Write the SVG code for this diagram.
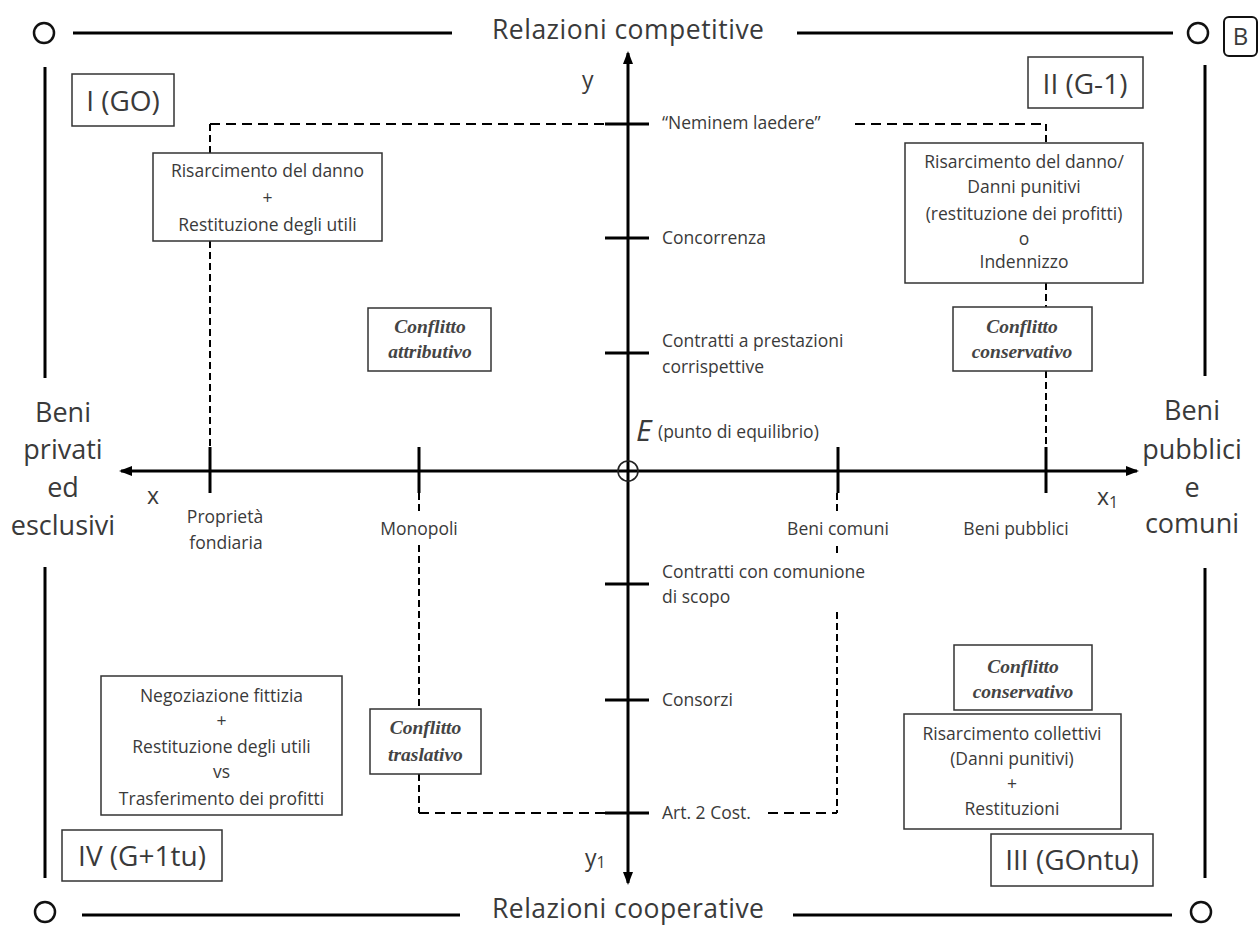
<svg xmlns="http://www.w3.org/2000/svg" width="1260" height="925" viewBox="0 0 1260 925">
<style>
.bg{fill:#fff}
.frame{stroke:#000;stroke-width:3;fill:none}
.ring{stroke:#111;stroke-width:2.5;fill:#fff}
.axis{stroke:#000;stroke-width:3;fill:none}
.tick{stroke:#000;stroke-width:3}
.hd{stroke:#000;stroke-width:2;stroke-dasharray:10 6;fill:none}
.vd{stroke:#000;stroke-width:2;stroke-dasharray:7 4;fill:none}
.box{fill:#fff;stroke:#333;stroke-width:1.5}
text{font-family:"Open Sans","Liberation Sans",sans-serif;fill:#3a3a3a}
.t{font-size:17.5px}
.c{text-anchor:middle}
.big{font-size:27px}
.q{font-size:28px;text-anchor:middle}
.cf{font-family:"Liberation Serif",serif;font-style:italic;font-weight:bold;font-size:19.5px;text-anchor:middle;fill:#444}
.ax{font-size:23px}
</style>
<defs>
<marker id="arr" viewBox="0 0 13 10" refX="11" refY="5" markerWidth="13" markerHeight="10" markerUnits="userSpaceOnUse" orient="auto-start-reverse">
<path d="M0,0 L13,5 L0,10 z" fill="#000"/>
</marker>
</defs>
<rect class="bg" x="0" y="0" width="1260" height="925"/>

<g id="frame">
<circle class="ring" cx="44" cy="33" r="10"/>
<line class="frame" x1="73" y1="33" x2="452" y2="33"/>
<line class="frame" x1="797" y1="33" x2="1173" y2="33"/>
<circle class="ring" cx="1198" cy="33" r="10"/>
<line class="frame" x1="45" y1="67" x2="45" y2="378"/>
<line class="frame" x1="45" y1="567" x2="45" y2="878"/>
<line class="frame" x1="1205" y1="65" x2="1205" y2="376"/>
<line class="frame" x1="1205" y1="568" x2="1205" y2="878"/>
<circle class="ring" cx="45" cy="912" r="10"/>
<line class="frame" x1="82" y1="915" x2="460" y2="915"/>
<line class="frame" x1="793" y1="915" x2="1172" y2="915"/>
<circle class="ring" cx="1201" cy="912" r="10"/>
<text x="628" y="39" font-size="26.5" class="c" textLength="272" lengthAdjust="spacing">Relazioni competitive</text>
<text x="628" y="918" font-size="26.5" class="c" textLength="272" lengthAdjust="spacing">Relazioni cooperative</text>
</g>

<g id="badge-B">
<rect x="1224" y="17" width="33" height="39" rx="5" fill="#fff" stroke="#111" stroke-width="2"/>
<text x="1240.5" y="45" font-size="24" class="c" fill="#222">B</text>
</g>

<g id="connectors">
<line class="axis" x1="121" y1="471" x2="1137" y2="471" marker-start="url(#arr)" marker-end="url(#arr)"/>
<line class="axis" x1="628" y1="53" x2="628" y2="883" marker-start="url(#arr)" marker-end="url(#arr)"/>
<g class="ticks">
<line class="tick" x1="605" y1="124" x2="649" y2="124"/>
<line class="tick" x1="605" y1="238" x2="649" y2="238"/>
<line class="tick" x1="605" y1="353" x2="649" y2="353"/>
<line class="tick" x1="605" y1="584" x2="649" y2="584"/>
<line class="tick" x1="605" y1="700" x2="649" y2="700"/>
<line class="tick" x1="605" y1="813" x2="649" y2="813"/>
<line class="tick" x1="210" y1="447" x2="210" y2="493"/>
<line class="tick" x1="419" y1="447" x2="419" y2="493"/>
<line class="tick" x1="838" y1="447" x2="838" y2="493"/>
<line class="tick" x1="1046" y1="447" x2="1046" y2="493"/>
</g>
<circle cx="628" cy="471" r="10" fill="none" stroke="#222" stroke-width="1.6"/>
<line class="hd" x1="210" y1="124" x2="605" y2="124"/>
<line class="hd" x1="855" y1="124" x2="1046" y2="124"/>
<line class="vd" x1="210" y1="124" x2="210" y2="153"/>
<line class="vd" x1="210" y1="241" x2="210" y2="447"/>
<line class="vd" x1="1046" y1="124" x2="1046" y2="143"/>
<line class="vd" x1="1046" y1="283" x2="1046" y2="307"/>
<line class="vd" x1="1046" y1="371" x2="1046" y2="447"/>
<line class="vd" x1="419" y1="493" x2="419" y2="512"/>
<line class="vd" x1="419" y1="545" x2="419" y2="709"/>
<line class="vd" x1="419" y1="774" x2="419" y2="813"/>
<line class="hd" x1="419" y1="813" x2="605" y2="813"/>
<line class="vd" x1="837" y1="493" x2="837" y2="512"/>
<line class="vd" x1="837" y1="546" x2="837" y2="553"/>
<line class="vd" x1="837" y1="612" x2="837" y2="813"/>
<line class="hd" x1="768" y1="813" x2="837" y2="813"/>
</g>

<g id="axis-labels">
<text class="ax" x="582" y="88">y</text>
<text class="ax" x="585" y="866">y<tspan font-size="16" dy="2">1</tspan></text>
<text class="ax" x="147" y="504">x</text>
<text class="ax" x="1097" y="505">x<tspan font-size="16" dy="3">1</tspan></text>
<text x="636" y="441" font-family="Liberation Serif" font-style="italic" font-size="30">E</text>
<text class="t" x="658" y="438" font-size="16.5">(punto di equilibrio)</text>
</g>

<g id="y-labels">
<text class="t" x="662" y="129">“Neminem laedere”</text>
<text class="t" x="662" y="244">Concorrenza</text>
<text class="t" x="662" y="347">Contratti a prestazioni</text>
<text class="t" x="662" y="373">corrispettive</text>
<text class="t" x="662" y="578">Contratti con comunione</text>
<text class="t" x="662" y="603">di scopo</text>
<text class="t" x="662" y="706">Consorzi</text>
<text class="t" x="662" y="819">Art. 2 Cost.</text>
</g>

<g id="x-labels">
<text class="t c" x="225" y="523">Proprietà</text>
<text class="t c" x="226" y="549">fondiaria</text>
<text class="t c" x="419" y="535">Monopoli</text>
<text class="t c" x="838" y="535">Beni comuni</text>
<text class="t c" x="1016" y="535">Beni pubblici</text>
</g>

<g id="side-left">
<text class="big c" x="63" y="422">Beni</text>
<text class="big c" x="63" y="459">privati</text>
<text class="big c" x="63" y="497">ed</text>
<text class="big c" x="63" y="535">esclusivi</text>
</g>
<g id="side-right">
<text class="big c" x="1192" y="420">Beni</text>
<text class="big c" x="1192" y="459">pubblici</text>
<text class="big c" x="1192" y="497">e</text>
<text class="big c" x="1192" y="533">comuni</text>
</g>

<g id="q1">
<rect class="box" x="72" y="74" width="102" height="52"/>
<text class="q" x="123" y="111">I (GO)</text>
</g>
<g id="q2">
<rect class="box" x="1028" y="57" width="115" height="51"/>
<text class="q" x="1085" y="94">II (G-1)</text>
</g>
<g id="q4">
<rect class="box" x="62" y="830" width="160" height="51"/>
<text class="q" x="142" y="866">IV (G+1tu)</text>
</g>
<g id="q3">
<rect class="box" x="991" y="834" width="162" height="52"/>
<text class="q" x="1072" y="870">III (GOntu)</text>
</g>

<g id="rimedi-1">
<rect class="box" x="153" y="153" width="229" height="88"/>
<text class="t c" x="267.5" y="177">Risarcimento del danno</text>
<text class="t c" x="267.5" y="204">+</text>
<text class="t c" x="267.5" y="231">Restituzione degli utili</text>
</g>
<g id="rimedi-2">
<rect class="box" x="905" y="143" width="238" height="140"/>
<text class="t c" x="1024" y="168">Risarcimento del danno/</text>
<text class="t c" x="1024" y="193">Danni punitivi</text>
<text class="t c" x="1024" y="220">(restituzione dei profitti)</text>
<text class="t c" x="1024" y="245">o</text>
<text class="t c" x="1024" y="268">Indennizzo</text>
</g>
<g id="rimedi-4">
<rect class="box" x="101" y="676" width="241" height="139"/>
<text class="t c" x="221.5" y="702">Negoziazione fittizia</text>
<text class="t c" x="221.5" y="727">+</text>
<text class="t c" x="221.5" y="753">Restituzione degli utili</text>
<text class="t c" x="221.5" y="778">vs</text>
<text class="t c" x="221.5" y="805">Trasferimento dei profitti</text>
</g>
<g id="rimedi-3">
<rect class="box" x="904" y="714" width="217" height="115"/>
<text class="t c" x="1012" y="740">Risarcimento collettivi</text>
<text class="t c" x="1012" y="765">(Danni punitivi)</text>
<text class="t c" x="1012" y="790">+</text>
<text class="t c" x="1012" y="815">Restituzioni</text>
</g>

<g id="conflitto-attributivo">
<rect class="box" x="368" y="308" width="123" height="63"/>
<text class="cf" x="430" y="333">Conflitto</text>
<text class="cf" x="430" y="358">attributivo</text>
</g>
<g id="conflitto-conservativo-1">
<rect class="box" x="953" y="307" width="139" height="64"/>
<text class="cf" x="1022" y="333">Conflitto</text>
<text class="cf" x="1022" y="358">conservativo</text>
</g>
<g id="conflitto-traslativo">
<rect class="box" x="370" y="709" width="111" height="65"/>
<text class="cf" x="425.5" y="734">Conflitto</text>
<text class="cf" x="425.5" y="761">traslativo</text>
</g>
<g id="conflitto-conservativo-2">
<rect class="box" x="954" y="645" width="138" height="65"/>
<text class="cf" x="1023" y="673">Conflitto</text>
<text class="cf" x="1023" y="698">conservativo</text>
</g>
</svg>
